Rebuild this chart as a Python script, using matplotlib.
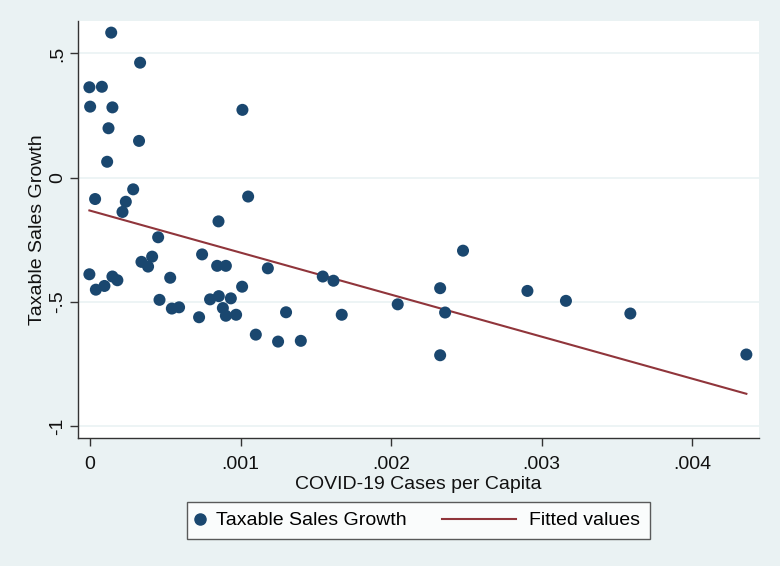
import numpy as np
import matplotlib
matplotlib.use("Agg")
import matplotlib.pyplot as plt
from matplotlib.lines import Line2D
from matplotlib.legend_handler import HandlerBase

plt.rcParams['font.family'] = ['Liberation Sans', 'DejaVu Sans']

cases_per_capita = [
    0.000140, 0.000332, -0.000005, 0.000078, 0.000000, 0.000148, 0.000122,
    0.000325, 0.000113, 0.001012, 0.000033, 0.000286, 0.000237, 0.000215,
    0.001050, 0.000853, 0.000452,
    0.000744, 0.000341, 0.000412, 0.000385, 0.000844, 0.000902, 0.001181,
    -0.000005, 0.000148, 0.000181, 0.000532, 0.000095, 0.000038, 0.001010,
    0.001546, 0.001617, 0.000461, 0.000797, 0.000855, 0.000935, 0.000543,
    0.000591, 0.000882, 0.000902, 0.000970, 0.000724, 0.001302, 0.001672,
    0.001101, 0.001249, 0.001400, 0.002044,
    0.002478, 0.002326, 0.002906, 0.003162, 0.002359, 0.003590, 0.002326,
    0.004361,
]
sales_growth = [
    0.584, 0.463, 0.364, 0.366, 0.286, 0.283, 0.199,
    0.148, 0.064, 0.273, -0.086, -0.047, -0.097, -0.138,
    -0.076, -0.176, -0.240,
    -0.309, -0.339, -0.318, -0.358, -0.355, -0.355, -0.365,
    -0.389, -0.398, -0.413, -0.403, -0.436, -0.451, -0.439,
    -0.398, -0.415, -0.492, -0.490, -0.477, -0.486, -0.527,
    -0.522, -0.525, -0.556, -0.552, -0.562, -0.542, -0.552,
    -0.632, -0.660, -0.657, -0.510,
    -0.294, -0.445, -0.456, -0.496, -0.543, -0.547, -0.715,
    -0.712,
]
x_ticks = [0, 0.001, 0.002, 0.003, 0.004]
x_tick_labels = ["0", ".001", ".002", ".003", ".004"]
y_ticks = [-1, -0.5, 0, 0.5]
y_tick_labels = ["-1", "-.5", "0", ".5"]
legend_labels = ["Taxable Sales Growth", "Fitted values"]

x = np.array(cases_per_capita)
y = np.array(sales_growth)
slope, intercept = np.polyfit(x, y, 1)
xf = np.array([x.min(), x.max()])
yf = intercept + slope * xf

bg = '#EAF2F3'
navy = '#1a476f'
maroon = '#90353b'
FS = 14

fig = plt.figure(figsize=(7.8, 5.66), dpi=100, facecolor=bg)
ax = fig.add_axes([78.3 / 780, 1 - 437.7 / 566, (759 - 78.3) / 780, (437.7 - 20.7) / 566])
ax.set_facecolor('white')

for t in y_ticks:
    ax.axhline(t, color=bg, lw=1.2, zorder=0)

ax.scatter(x, y, s=75, color=navy, edgecolors='none', zorder=3)
ax.plot(xf, yf, color=maroon, lw=1.5, zorder=2)

ax.set_xlim(-0.0000787, 0.004445)
ax.set_ylim(-1.047, 0.632)

ax.set_xticks(x_ticks)
ax.set_xticklabels(x_tick_labels)
ax.set_yticks(y_ticks)
ax.set_yticklabels(y_tick_labels, rotation=90, va='center')

for s in ['top', 'right']:
    ax.spines[s].set_visible(False)
for s in ['left', 'bottom']:
    ax.spines[s].set_color('#333333')
    ax.spines[s].set_linewidth(1.0)

ax.tick_params(axis='both', direction='out', length=6, width=1.0,
               color='#333333', labelsize=FS, labelcolor='#111111')
ax.tick_params(axis='x', pad=7)
ax.tick_params(axis='y', pad=3)

ax.set_xlabel("COVID-19 Cases per Capita", fontsize=FS, color='#111111', labelpad=2)
ax.set_ylabel("Taxable Sales Growth", fontsize=FS, color='#111111', labelpad=2)


class LongLineHandler(HandlerBase):
    def create_artists(self, legend, orig_handle, xdescent, ydescent,
                       width, height, fontsize, trans):
        yc = height / 2 - ydescent
        ln = Line2D([width - 3.8 * fontsize - xdescent, width - xdescent], [yc, yc],
                    color=orig_handle.get_color(), lw=orig_handle.get_linewidth(),
                    transform=trans)
        return [ln]


handles = [
    Line2D([], [], marker='o', linestyle='none', color=navy, markersize=8),
    Line2D([], [], color=maroon, lw=1.5),
]
leg = fig.legend(handles, legend_labels,
                 loc='center', bbox_to_anchor=(418.5 / 780, 1 - 520.5 / 566), ncol=2,
                 fontsize=FS, frameon=True, fancybox=False,
                 handlelength=0.3, columnspacing=5.3, handletextpad=0.7,
                 borderpad=0.5, borderaxespad=0,
                 handler_map={handles[1]: LongLineHandler()})
leg.get_frame().set_edgecolor('#333333')
leg.get_frame().set_linewidth(1.0)
leg.get_frame().set_facecolor('white')

fig.savefig("out.png", dpi=100, facecolor=bg)
